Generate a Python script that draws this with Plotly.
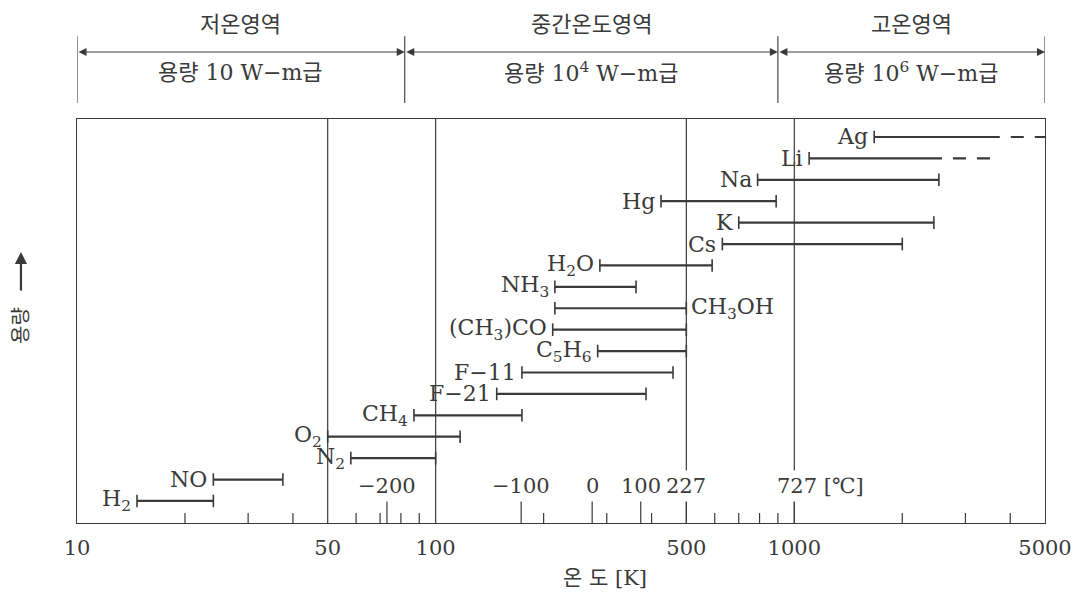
import math
import plotly.graph_objects as go

# ---------------- data ----------------
fluids = ["Ag", "Li", "Na", "Hg", "K", "Cs", "H<sub>2</sub>O", "NH<sub>3</sub>",
          "CH<sub>3</sub>OH", "(CH<sub>3</sub>)CO", "C<sub>5</sub>H<sub>6</sub>",
          "F−11", "F−21", "CH<sub>4</sub>", "O<sub>2</sub>", "N<sub>2</sub>", "NO", "H<sub>2</sub>"]
t_low = [1670, 1100, 790, 425, 700, 630, 287, 215, 215, 212, 283, 174, 148, 87, 50, 58, 24, 14.7]
t_high = [3740, 2580, 2530, 890, 2450, 2000, 590, 362, 500, 500, 500, 459, 386, 174, 117, 100, 37.5, 24]
t_ext = [5000, 3580, None, None, None, None, None, None, None, None, None, None, None, None, None, None, None, None]
right_label = ["CH<sub>3</sub>OH"]

x_ticks = [10, 50, 100, 500, 1000, 5000]
ref_lines_K = [50, 100, 500, 1000]
minor_ticks_K = [20, 30, 40, 60, 70, 80, 90, 200, 300, 400, 600, 700, 800, 900, 2000, 3000, 4000]
celsius_vals = [-200, -100, 0, 100, 227, 727]
celsius_text = ["−200", "−100", "0", "100", "227", "727 [℃]"]

region_bounds = [10, 82, 900, 5000]
region_names = ["저온영역", "중간온도영역", "고온영역"]
region_caps = ["용량 10 W−m급", "용량 10<sup>4</sup> W−m급", "용량 10<sup>6</sup> W−m급"]

# ---------------- style ----------------
INK = "#3a3a3a"
SERIF = "DejaVu Serif, Noto Sans CJK KR"
n = len(fluids)
rank = [n - 1 - i for i in range(n)]

fig = go.Figure()

# solid range bars
xs, ys = [], []
for lo, hi, r in zip(t_low, t_high, rank):
    xs += [lo, hi, None]
    ys += [r, r, None]
fig.add_trace(go.Scatter(x=xs, y=ys, mode="lines", line=dict(color=INK, width=2.2),
                         hoverinfo="skip"))

# dashed extensions
for hi, ex, r in zip(t_high, t_ext, rank):
    if ex is not None:
        fig.add_trace(go.Scatter(x=[hi, ex], y=[r, r], mode="lines",
                                 line=dict(color=INK, width=2.2, dash="0px,11px,13px,0px"),
                                 hoverinfo="skip"))

# end caps
cx, cy = [], []
for lo, hi, ex, r in zip(t_low, t_high, t_ext, rank):
    cx.append(lo); cy.append(r)
    if ex is None:
        cx.append(hi); cy.append(r)
fig.add_trace(go.Scatter(x=cx, y=cy, mode="markers",
                         marker=dict(symbol="line-ns", size=9, line=dict(color=INK, width=1.6)),
                         hoverinfo="skip"))

annotations = []
# fluid labels
for name, lo, hi, r in zip(fluids, t_low, t_high, rank):
    if name in right_label:
        annotations.append(dict(x=math.log10(hi), y=r, xref="x", yref="y", text=name,
                                xanchor="left", yanchor="middle", xshift=3, showarrow=False,
                                font=dict(family=SERIF, size=22, color=INK)))
    else:
        annotations.append(dict(x=math.log10(lo), y=r, xref="x", yref="y", text=name,
                                xanchor="right", yanchor="middle", xshift=-4, showarrow=False,
                                font=dict(family=SERIF, size=22, color=INK)))

shapes = []
# reference vertical lines
for v in ref_lines_K:
    shapes.append(dict(type="line", xref="x", yref="paper", x0=v, x1=v, y0=0, y1=1,
                       line=dict(color=INK, width=1.2), layer="below"))
# minor ticks
for v in minor_ticks_K:
    shapes.append(dict(type="line", xref="x", yref="paper", x0=v, x1=v, y0=0, y1=10 / 404,
                       line=dict(color=INK, width=1.2)))
# celsius ticks + labels
for c, txt in zip(celsius_vals, celsius_text):
    k = c + 273.15
    shapes.append(dict(type="line", xref="x", yref="paper", x0=k, x1=k, y0=0, y1=23 / 404,
                       line=dict(color=INK, width=1.2)))
    if "[" in txt:
        annotations.append(dict(x=math.log10(k), y=0.0916, xref="x", yref="paper", text=txt,
                                xanchor="left", yanchor="middle", xshift=-21, showarrow=False,
                                bgcolor="white", borderpad=3,
                                font=dict(family=SERIF, size=21, color=INK)))
    else:
        annotations.append(dict(x=math.log10(k), y=0.0916, xref="x", yref="paper", text=txt,
                                xanchor="center", yanchor="middle", showarrow=False,
                                bgcolor="white", borderpad=3,
                                font=dict(family=SERIF, size=21, color=INK)))

# header: region separators, arrows, titles
for b in region_bounds:
    shapes.append(dict(type="line", xref="x", yref="paper", x0=b, x1=b, y0=1.0396, y1=1.205,
                       line=dict(color=INK, width=1.1)))
for i in range(len(region_names)):
    a, b = math.log10(region_bounds[i]), math.log10(region_bounds[i + 1])
    annotations.append(dict(x=b, y=1.1658, ax=a, ay=0, xref="x", yref="paper", axref="x",
                            text="", showarrow=True, arrowhead=2, arrowside="end+start",
                            arrowsize=1.6, arrowwidth=1, arrowcolor=INK,
                            standoff=0, startstandoff=0))
    mid = (a + b) / 2
    annotations.append(dict(x=mid, y=1.2351, xref="x", yref="paper", text=region_names[i],
                            showarrow=False, xanchor="center", yanchor="middle",
                            font=dict(family=SERIF, size=22, color=INK)))
    annotations.append(dict(x=mid, y=1.1163, xref="x", yref="paper", text=region_caps[i],
                            showarrow=False, xanchor="center", yanchor="middle",
                            font=dict(family=SERIF, size=22, color=INK)))

# y-axis label with arrow
annotations.append(dict(x=-0.0579, y=0.671, xref="paper", yref="paper", text="",
                        showarrow=True, ax=0, ay=40, arrowhead=2, arrowsize=1.1,
                        arrowwidth=2.2, arrowcolor=INK, standoff=0))
annotations.append(dict(x=-0.0579, y=0.49, xref="paper", yref="paper", text="용량",
                        textangle=-90, showarrow=False, xanchor="center", yanchor="middle",
                        font=dict(family=SERIF, size=20, color=INK)))
# x-axis title
annotations.append(dict(x=0.545, y=-0.136, xref="paper", yref="paper", text="온 도 [K]",
                        showarrow=False, xanchor="center", yanchor="middle",
                        font=dict(family=SERIF, size=21, color=INK)))

fig.update_layout(
    width=1091, height=596,
    margin=dict(l=77, r=46, t=119, b=73),
    plot_bgcolor="white", paper_bgcolor="white",
    showlegend=False,
    shapes=shapes, annotations=annotations,
    xaxis=dict(type="log", range=[1, math.log10(5000)], tickvals=x_ticks,
               ticktext=[str(v) for v in x_ticks], ticks="", showgrid=False,
               zeroline=False, showline=True, mirror=True, linecolor=INK, linewidth=1.3,
               tickfont=dict(family=SERIF, size=21, color=INK), ticklabelstandoff=6),
    yaxis=dict(range=[-1.03, 17.84], showticklabels=False, ticks="", showgrid=False,
               zeroline=False, showline=True, mirror=True, linecolor=INK, linewidth=1.3),
)

fig.write_html("out.html", config={"displayModeBar": False},
               post_script="document.body.style.margin='0';")
